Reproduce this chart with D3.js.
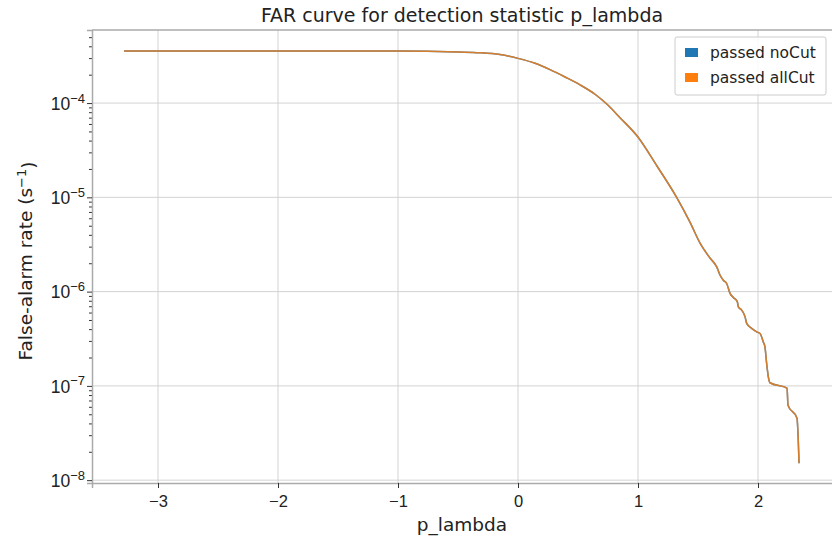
<!DOCTYPE html>
<html>
<head>
<meta charset="utf-8">
<script src="https://cdn.jsdelivr.net/npm/d3@7"></script>
<style>
  body { margin: 0; background: #fff; }
  svg { font-family: "DejaVu Sans", sans-serif; }
</style>
</head>
<body>
<div id="chart"></div>
<script>
// FAR curve values
var pLambda = [-3.283, -2.0, -1.0, -0.5, -0.317, -0.15, 0.0, 0.142, 0.267, 0.392, 0.517, 0.642, 0.742,
  0.85, 0.998, 1.158, 1.322, 1.433, 1.517, 1.6, 1.656, 1.683, 1.711, 1.739, 1.767, 1.794, 1.828, 1.836,
  1.864, 1.892, 1.906, 1.947, 1.989, 2.017, 2.044, 2.058, 2.072, 2.086, 2.1, 2.242, 2.25, 2.325, 2.342];
var farNoCut = [3.57e-4, 3.57e-4, 3.56e-4, 3.48e-4, 3.42e-4, 3.27e-4, 2.98e-4, 2.64e-4, 2.26e-4, 1.89e-4, 1.56e-4, 1.24e-4, 9.7e-5,
  7.0e-5, 4.39e-5, 2.15e-5, 1.0e-5, 5.46e-6, 3.27e-6, 2.27e-6, 1.83e-6, 1.50e-6, 1.32e-6, 1.22e-6, 9.57e-7, 8.68e-7, 7.79e-7, 6.90e-7,
  6.37e-7, 5.41e-7, 4.60e-7, 4.07e-7, 3.74e-7, 3.60e-7, 2.93e-7, 2.59e-7, 1.73e-7, 1.25e-7, 1.08e-7, 9.46e-8, 6.25e-8, 4.55e-8, 1.51e-8];
var farAllCut = farNoCut.slice();
var seriesNames = ["passed noCut", "passed allCut"];
var seriesColors = ["#1f77b4", "#ff7f0e"];
var xTicks = [-3, -2, -1, 0, 1, 2];
var yTickExps = [-4, -5, -6, -7, -8];

var W = 832, H = 539;
var margin = {top: 30, right: -4, bottom: 56, left: 92};
var width = W - margin.left - margin.right,
    height = H - margin.top - margin.bottom;

var svg = d3.select("#chart").append("svg")
    .attr("width", W).attr("height", H);
var g = svg.append("g")
    .attr("transform", "translate(" + margin.left + "," + margin.top + ")");

var x = d3.scaleLinear().domain([-3.55, 2.65]).range([0, width]);
var y = d3.scaleLog().domain([10 ** -8.03, 10 ** -3.225]).range([height, 0]);

// grid
g.selectAll(".vgrid").data(xTicks).enter().append("line")
  .attr("x1", d => x(d)).attr("x2", d => x(d))
  .attr("y1", 0).attr("y2", height)
  .attr("stroke", "#d3d3d3").attr("stroke-width", 1);
g.selectAll(".hgrid").data(yTickExps).enter().append("line")
  .attr("x1", 0).attr("x2", width)
  .attr("y1", d => y(10 ** d)).attr("y2", d => y(10 ** d))
  .attr("stroke", "#d3d3d3").attr("stroke-width", 1);

// axes
var xAxis = g.append("g").attr("transform", "translate(0," + height + ")")
  .call(d3.axisBottom(x).tickValues(xTicks).tickSize(5).tickPadding(7)
    .tickFormat(d => d < 0 ? "\u2212" + Math.abs(d) : d));
xAxis.select(".domain").attr("stroke", "#aaa").attr("stroke-width", 1.5);
xAxis.selectAll(".tick line").attr("stroke", "#333");
xAxis.selectAll("text").attr("font-size", 16.5).attr("fill", "#222");

var minor = [];
for (var e = -9; e <= -3; e++) for (var k = 2; k <= 9; k++) {
  var v = k * 10 ** e;
  if (v >= y.domain()[0] && v <= y.domain()[1]) minor.push(v);
}
var yMinor = g.append("g").call(d3.axisLeft(y).tickValues(minor).tickSize(3).tickFormat(""));
yMinor.select(".domain").remove();
yMinor.selectAll(".tick line").attr("stroke", "#333");

var yAxis = g.append("g")
  .call(d3.axisLeft(y).tickValues(yTickExps.map(d => 10 ** d)).tickSize(5).tickPadding(6).tickFormat(""));
yAxis.select(".domain").attr("stroke", "#aaa").attr("stroke-width", 1.5);
yAxis.selectAll(".tick line").attr("stroke", "#333");
yAxis.selectAll(".tick").data(yTickExps).append("text")
  .attr("x", -7).attr("dy", "0.35em").attr("fill", "#222").attr("font-size", 17.5)
  .attr("text-anchor", "end")
  .each(function(d) {
    var t = d3.select(this);
    t.append("tspan").text("10");
    t.append("tspan").attr("dy", "-0.55em").attr("font-size", 13).text("\u2212" + Math.abs(d));
  });

// top spine
g.append("line").attr("x1", 0).attr("x2", width).attr("y1", 0).attr("y2", 0)
  .attr("stroke", "#aaa").attr("stroke-width", 1.5);

// lines
var line = d3.line().x((d, i) => x(pLambda[i])).y(d => y(d)).curve(d3.curveMonotoneX);
g.append("path").datum(farNoCut).attr("d", line)
  .attr("fill", "none").attr("stroke", seriesColors[0]).attr("stroke-width", 1.5);
g.append("path").datum(farAllCut).attr("d", line)
  .attr("fill", "none").attr("stroke", seriesColors[1]).attr("stroke-width", 1.5)
  .attr("stroke-opacity", 0.82);

// title and labels
svg.append("text").attr("x", 462).attr("y", 22).attr("text-anchor", "middle")
  .attr("font-size", 19).attr("fill", "#222").text("FAR curve for detection statistic p_lambda");
svg.append("text").attr("x", 462).attr("y", 531).attr("text-anchor", "middle")
  .attr("font-size", 18.5).attr("fill", "#222").text("p_lambda");
var yl = svg.append("text").attr("transform", "translate(32,261) rotate(-90)")
  .attr("text-anchor", "middle").attr("font-size", 18.5).attr("fill", "#222");
yl.append("tspan").text("False-alarm rate (s");
yl.append("tspan").attr("dy", "-0.5em").attr("font-size", 13).text("\u22121");
yl.append("tspan").attr("dy", "0.5em").text(")");

// legend
var lg = svg.append("g").attr("transform", "translate(675,37)");
lg.append("rect").attr("width", 151).attr("height", 58).attr("rx", 2)
  .attr("fill", "#fff").attr("fill-opacity", 0.85).attr("stroke", "#ccc");
seriesNames.forEach(function(name, i) {
  lg.append("rect").attr("x", 10).attr("y", 11 + i * 25).attr("width", 13).attr("height", 9)
    .attr("fill", seriesColors[i]);
  lg.append("text").attr("x", 35).attr("y", 21 + i * 25).attr("font-size", 15.5)
    .attr("fill", "#222").text(name);
});
</script>
</body>
</html>
